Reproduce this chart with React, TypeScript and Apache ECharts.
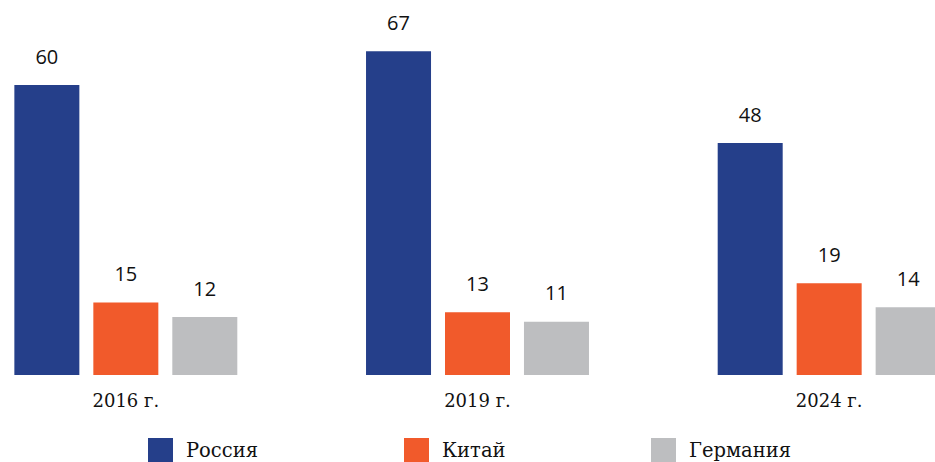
import React, { useEffect, useRef } from "react";
import * as echarts from "echarts";

const categories = ["2016 г.", "2019 г.", "2024 г."];
const seriesNames = ["Россия", "Китай", "Германия"];
const russia = [60, 67, 48];
const china = [15, 13, 19];
const germany = [12, 11, 14];
const colors = ["#253F8A", "#F15A2B", "#BDBEC0"];
const OFFSET = 50;
const legendLeft = [148, 404, 651];

export default function App() {
  const ref = useRef<HTMLDivElement>(null);
  useEffect(() => {
    const chart = echarts.init(ref.current!, null, { renderer: "svg" });
    const values = [russia, china, germany];
    const label = {
      show: true,
      position: "top",
      distance: 19,
      color: "#111",
      fontSize: 20,
      fontFamily: "Open Sans",
    };
    chart.setOption({
      animation: false,
      grid: { left: 0, right: 0, top: 0, bottom: 87, containLabel: false },
      legend: seriesNames.map((n, i) => ({
        data: [n],
        left: legendLeft[i] + OFFSET,
        top: 438,
        padding: 0,
        itemWidth: 25,
        itemHeight: 25,
        itemGap: 0,
        icon: "rect",
        textStyle: { fontFamily: "DejaVu Serif", fontSize: 19.5, color: "#111", padding: [0, 0, 0, 8] },
      })),
      xAxis: {
        type: "category",
        data: categories,
        axisLine: { show: false },
        axisTick: { show: false },
        axisLabel: { margin: 16, fontFamily: "DejaVu Serif", fontSize: 18, color: "#111" },
      },
      yAxis: { type: "value", min: 0, max: 77.6, show: false, splitLine: { show: false } },
      series: seriesNames.map((n, i) => ({
        name: n,
        type: "bar",
        data: values[i],
        barWidth: 65,
        barGap: "21.5%",
        itemStyle: { color: colors[i] },
        label,
      })),
    });
    return () => chart.dispose();
  }, []);
  return (
    <div style={{ width: 935, height: 462, position: "absolute", left: 0, top: 0, overflow: "hidden" }}>
      <div ref={ref} style={{ width: 1055, height: 462, position: "absolute", left: -OFFSET, top: 0 }} />
    </div>
  );
}
